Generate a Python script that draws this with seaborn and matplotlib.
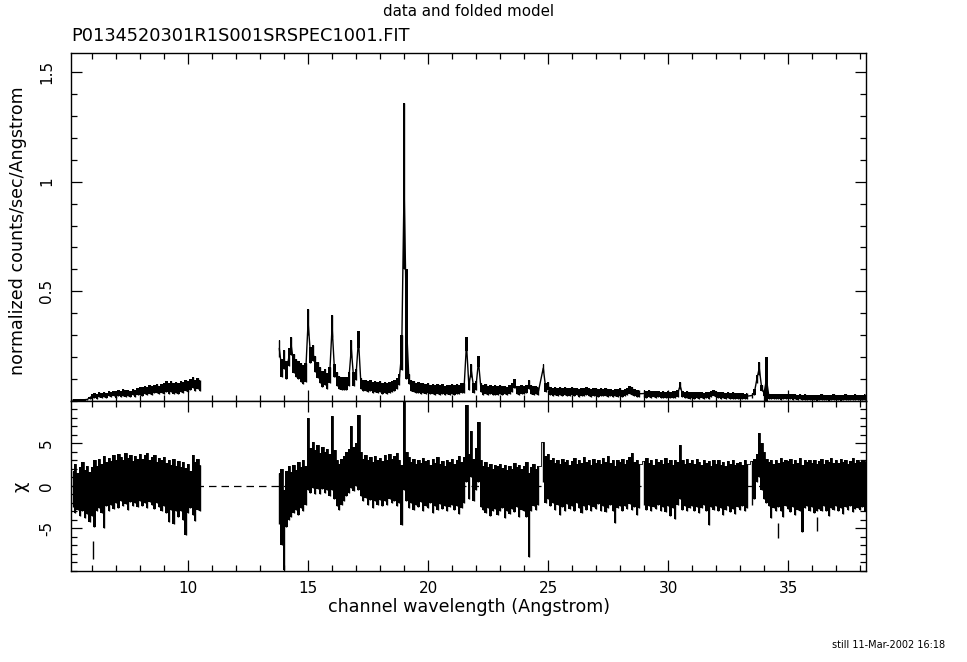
import numpy as np
import pandas as pd
import seaborn as sns
import matplotlib
matplotlib.use("Agg")
import matplotlib.pyplot as plt
from matplotlib.ticker import MultipleLocator, FixedLocator, FuncFormatter

nan = np.nan

# RGS spectrum read in chunks of 0.1 Angstrom; segment 1 starts at 5.2 A, segment 2 at 13.8 A
seg1_start = 5.2
seg2_start = 13.8
bin_width = 0.1

# normalized counts/sec/Angstrom (centre of the data band), one row per Angstrom
flux1_rows = [
    [0.004, 0.005, 0.004, 0.006, 0.005, 0.006, 0.007, 0.015],
    [0.022, 0.025, 0.020, 0.028, 0.024, 0.030, 0.026, 0.033, 0.028, 0.035],
    [0.030, 0.036, 0.032, 0.038, 0.033, 0.036, 0.031, 0.040, 0.035, 0.042],
    [0.045, 0.042, 0.050, 0.046, 0.052, 0.047, 0.055, 0.058, 0.050, 0.056],
    [0.056, 0.064, 0.057, 0.066, 0.059, 0.063, 0.056, 0.068, 0.062, 0.070],
    [0.066, 0.075, 0.085, 0.070, 0.078, 0.072],
]
flux1_row_err = [0.004, 0.012, 0.015, 0.02, 0.025, 0.025]

flux2_rows = [
    [0.24, 0.15],
    [0.19, 0.14, 0.20, 0.25, 0.17, 0.15, 0.14, 0.13, 0.12, 0.13],
    [0.36, 0.21, 0.22, 0.17, 0.14, 0.12, 0.10, 0.11, 0.09, 0.12],
    [0.34, 0.14, 0.10, 0.085, 0.08, 0.078, 0.08, 0.10, 0.24, 0.10],
    [0.12, 0.28, 0.08, 0.07, 0.072, 0.065, 0.07, 0.062, 0.068, 0.06],
    [0.065, 0.058, 0.062, 0.056, 0.06, 0.065, 0.07, 0.08, 0.10, 0.22],
    [0.98, 0.35, 0.10, 0.07, 0.065, 0.06, 0.062, 0.056, 0.06, 0.055],
    [0.058, 0.052, 0.056, 0.05, 0.055, 0.05, 0.054, 0.048, 0.052, 0.05],
    [0.055, 0.05, 0.056, 0.052, 0.058, 0.06, 0.26, 0.07, 0.14, 0.06],
    [0.07, 0.18, 0.06, 0.05, 0.055, 0.048, 0.052, 0.046, 0.05, 0.047],
    [0.052, 0.048, 0.05, 0.046, 0.052, 0.06, 0.08, 0.05, 0.048, 0.052],
    [0.05, 0.055, 0.075, 0.052, 0.048, 0.05, 0.045, nan, 0.15, 0.06],
    [0.07, 0.045, 0.042, 0.046, 0.04, 0.044, 0.04, 0.045, 0.042, 0.04],
    [0.044, 0.039, 0.043, 0.038, 0.042, 0.04, 0.045, 0.04, 0.038, 0.042],
    [0.04, 0.037, 0.041, 0.038, 0.04, 0.036, 0.039, 0.035, 0.038, 0.036],
    [0.04, 0.035, 0.038, 0.042, 0.05, 0.045, 0.038, 0.035, 0.033, nan],
    [0.034, 0.03, 0.033, 0.03, 0.032, 0.029, 0.031, 0.028, 0.03, 0.028],
    [0.03, 0.027, 0.029, 0.03, 0.033, 0.07, 0.032, 0.028, 0.03, 0.026],
    [0.028, 0.025, 0.027, 0.025, 0.028, 0.024, 0.027, 0.025, 0.03, 0.035],
    [0.032, 0.028, 0.025, 0.027, 0.024, 0.026, 0.023, 0.025, 0.022, 0.024],
    [0.022, 0.023, 0.021, 0.022, nan, 0.025, 0.04, 0.10, 0.15, 0.06],
    [0.035, 0.10, 0.022, 0.02, 0.022, 0.019, 0.021, 0.018, 0.02, 0.022],
    [0.019, 0.021, 0.018, 0.02, 0.017, 0.019, 0.016, 0.018, 0.015, 0.017],
    [0.015, 0.017, 0.014, 0.016, 0.018, 0.015, 0.017, 0.014, 0.016, 0.018],
    [0.015, 0.017, 0.014, 0.016, 0.018, 0.015, 0.017, 0.016, 0.018, 0.015],
    [0.017, 0.016, 0.018],
]
flux2_row_err = [0.04, 0.042, 0.036, 0.03, 0.025, 0.025, 0.024, 0.022, 0.022,
                 0.021, 0.02, 0.02, 0.018, 0.018, 0.017, 0.017, 0.015,
                 0.015, 0.014, 0.014, 0.013, 0.012, 0.012, 0.012, 0.012, 0.012]

# chunks on emission lines with larger errors
line_wave = [15.0, 16.0, 16.8, 17.1, 18.9, 19.0, 19.1, 21.6, 21.8, 22.1, 24.8, 33.7, 33.8, 34.1]
line_err = [0.06, 0.05, 0.04, 0.04, 0.08, 0.38, 0.25, 0.03, 0.03, 0.025, 0.02, 0.02, 0.03, 0.1]

# residuals: lower / upper edge of the chi band (chi +- 1), one row per Angstrom
chi1_lo_rows = [
    [-2.5, -3.2, -2.8, -3.5, -3.0, -3.8, -3.3, -4.2],
    [-3.5, -4.8, -3.0, -2.6, -3.2, -5.0, -2.4, -2.9, -2.2, -2.7],
    [-2.0, -2.6, -1.8, -2.4, -2.1, -2.8, -1.9, -2.3, -2.0, -2.5],
    [-1.8, -2.4, -2.0, -2.6, -1.9, -2.2, -2.7, -2.0, -2.5, -3.0],
    [-2.4, -3.2, -4.2, -2.8, -4.5, -3.0, -3.6, -2.9, -4.0, -5.8],
    [-3.2, -2.6, -3.4, -4.1, -2.8, -3.0],
]
chi1_hi_rows = [
    [1.8, 2.6, 1.5, 2.2, 2.8, 1.9, 2.4, 1.6],
    [2.2, 3.0, 2.4, 3.2, 2.6, 3.5, 2.8, 3.3, 2.9, 3.6],
    [3.1, 3.8, 3.4, 3.0, 3.9, 3.3, 3.6, 2.9, 3.5, 3.2],
    [3.8, 3.2, 3.6, 3.9, 3.0, 3.4, 3.7, 2.8, 3.3, 3.1],
    [3.4, 2.7, 3.1, 2.5, 3.2, 2.4, 2.9, 2.2, 2.8, 2.1],
    [2.6, 1.8, 3.6, 2.8, 3.2, 2.5],
]
chi2_lo_rows = [
    [-4.5, -7.0],
    [-9.9, -4.8, -4.0, -3.6, -3.2, -2.8, -3.4, -2.6, -3.0, -2.2],
    [-0.5, -0.8, -0.2, -1.0, -0.4, -0.9, -0.3, -0.8, -0.5, -1.2],
    [-0.5, -1.5, -2.4, -2.8, -2.2, -1.8, -1.2, -0.8, -0.2, -0.6],
    [0.0, -0.5, -1.2, -1.8, -1.4, -2.2, -1.6, -2.6, -1.8, -2.2],
    [-1.6, -2.4, -1.8, -2.2, -1.5, -2.0, -1.8, -2.3, -2.0, -4.6],
    [-0.5, -1.8, -2.6, -2.0, -2.8, -2.2, -2.5, -1.9, -2.9, -2.3],
    [-2.6, -2.0, -3.2, -2.4, -2.8, -2.1, -2.7, -2.3, -3.0, -2.5],
    [-2.2, -2.8, -2.4, -3.3, -2.6, -2.0, 0.5, -1.5, 1.0, -1.8],
    [-0.5, 0.5, -2.5, -2.8, -3.2, -2.6, -3.5, -3.0, -2.7, -3.4],
    [-3.0, -2.6, -3.8, -2.9, -3.3, -2.7, -3.1, -2.5, -3.6, -2.8],
    [-3.0, -3.6, -8.4, -3.0, -2.4, -2.8, -2.2, nan, 0.5, -2.0],
    [-1.5, -2.4, -2.0, -2.8, -2.2, -3.4, -2.5, -2.9, -2.1, -2.7],
    [-2.3, -2.9, -2.0, -2.6, -3.2, -2.4, -2.8, -2.2, -3.0, -2.5],
    [-2.7, -2.1, -2.9, -2.4, -3.1, -2.6, -2.2, -3.0, -4.4, -2.6],
    [-2.4, -3.0, -2.3, -2.7, -2.1, -2.8, -2.5, -3.4, -2.6, nan],
    [-2.2, -2.8, -2.4, -3.0, -2.5, -2.7, -2.2, -2.9, -2.5, -3.1],
    [-2.4, -3.5, -2.6, -3.9, -2.2, -1.5, -2.8, -2.4, -3.0, -2.6],
    [-2.3, -2.9, -2.5, -3.2, -2.6, -2.2, -2.9, -4.6, -2.5, -2.8],
    [-2.4, -3.0, -2.6, -3.4, -2.8, -2.3, -3.1, -2.7, -3.3, -2.5],
    [-2.8, -2.4, -3.0, -2.6, nan, -2.2, -1.5, 0.5, 1.0, -0.5],
    [-1.5, -2.0, -2.4, -3.8, -2.6, -3.0, -2.5, -2.9, -3.6, -2.4],
    [-2.7, -3.1, -2.5, -3.4, -2.8, -3.0, -5.4, -2.6, -2.3, -2.9],
    [-2.5, -3.2, -2.9, -2.7, -3.0, -2.4, -2.9, -3.5, -2.6, -2.8],
    [-2.4, -3.0, -2.6, -3.3, -2.5, -2.8, -2.3, -3.1, -2.7, -2.6],
    [-2.8, -2.5, -3.0],
]
chi2_hi_rows = [
    [1.5, 2.0],
    [-0.5, 1.8, 2.3, 1.6, 2.5, 1.9, 2.8, 2.2, 3.0, 2.4],
    [8.0, 4.5, 5.2, 4.2, 4.8, 3.9, 4.6, 4.0, 4.4, 3.8],
    [8.2, 4.2, 3.0, 2.6, 3.2, 3.5, 4.0, 4.4, 7.0, 4.6],
    [5.0, 8.3, 4.0, 3.2, 3.6, 3.0, 3.4, 2.8, 3.5, 3.1],
    [3.3, 2.9, 3.6, 3.0, 3.8, 3.2, 3.5, 3.9, 3.0, 2.5],
    [10.0, 4.0, 3.4, 2.8, 3.2, 2.6, 3.1, 2.7, 3.3, 2.9],
    [3.0, 2.5, 3.2, 2.7, 3.4, 2.6, 2.9, 2.4, 3.1, 2.8],
    [3.2, 2.6, 3.0, 3.5, 2.8, 3.4, 9.5, 3.8, 6.5, 3.2],
    [4.5, 7.5, 3.0, 2.4, 2.8, 2.2, 2.6, 2.0, 2.5, 2.3],
    [2.6, 2.1, 2.5, 1.9, 2.4, 2.0, 2.7, 2.2, 2.5, 2.0],
    [2.3, 2.8, 1.5, 2.2, 2.6, 2.0, 2.4, nan, 5.2, 3.5],
    [3.8, 3.0, 3.3, 2.7, 3.1, 2.6, 3.2, 2.8, 3.0, 2.5],
    [2.9, 3.3, 2.6, 3.0, 2.7, 3.4, 2.8, 3.1, 2.5, 3.2],
    [2.7, 3.0, 2.6, 3.3, 2.8, 3.5, 2.7, 3.0, 2.4, 3.1],
    [2.8, 3.2, 2.6, 3.0, 3.4, 3.9, 2.8, 3.1, 2.6, nan],
    [2.9, 3.3, 2.7, 3.1, 2.5, 3.2, 2.8, 3.0, 2.6, 3.3],
    [2.7, 3.1, 2.5, 3.0, 2.8, 4.8, 3.0, 2.6, 3.2, 2.7],
    [3.0, 2.6, 3.2, 2.8, 2.5, 3.1, 2.7, 2.9, 2.4, 3.0],
    [2.6, 3.0, 2.5, 2.8, 2.4, 2.9, 2.6, 3.1, 2.5, 2.7],
    [2.8, 2.5, 3.0, 2.6, nan, 2.9, 3.2, 3.8, 6.2, 5.0],
    [4.0, 3.2, 2.8, 3.1, 2.6, 3.0, 2.7, 3.3, 2.8, 3.1],
    [2.9, 3.2, 2.6, 3.0, 2.7, 3.3, 2.5, 3.1, 2.8, 3.0],
    [2.7, 3.1, 2.6, 2.9, 3.2, 2.6, 3.0, 2.8, 3.3, 2.7],
    [3.0, 2.7, 3.2, 2.8, 3.1, 2.6, 2.9, 3.3, 2.7, 3.0],
    [2.8, 3.1, 2.9],
]

# single deviant channels standing apart from the band
spike_wave = [6.05, 34.58, 36.2]
spike_lo = [-8.6, -6.1, -5.3]
spike_hi = [-6.5, -4.3, -3.6]


def flatten(rows):
    return np.array([v for row in rows for v in row], dtype=float)


def row_errors(rows, errs):
    return np.repeat(errs, [len(r) for r in rows])


segments = []
for start, f_rows, f_err, lo_rows, hi_rows in (
        (seg1_start, flux1_rows, flux1_row_err, chi1_lo_rows, chi1_hi_rows),
        (seg2_start, flux2_rows, flux2_row_err, chi2_lo_rows, chi2_hi_rows)):
    flux = flatten(f_rows)
    wave = np.round(start + bin_width * np.arange(len(flux)), 1)
    err = row_errors(f_rows, f_err)
    for w, e in zip(line_wave, line_err):
        err[np.isclose(wave, w)] = e
    chi_lo, chi_hi = flatten(lo_rows), flatten(hi_rows)
    assert len(chi_lo) == len(flux) == len(chi_hi)
    segments.append(pd.DataFrame({"wave": wave, "flux": flux,
                                  "flux_lo": flux - err, "flux_hi": flux + err,
                                  "chi_lo": chi_lo, "chi_hi": chi_hi}))

sns.set_style("ticks", {"axes.edgecolor": "black", "text.color": "black",
                        "xtick.color": "black", "ytick.color": "black",
                        "axes.labelcolor": "black"})
plt.rcParams["font.family"] = ["DejaVu Sans"]
plt.rcParams["axes.unicode_minus"] = False

fig = plt.figure(figsize=(9.67, 6.62), dpi=100)
ax1 = fig.add_axes([0.0734, 0.3943, 0.8222, 0.5257])
ax2 = fig.add_axes([0.0734, 0.1375, 0.8222, 0.2568], sharex=ax1)

ax2.axhline(0, color="black", lw=0.9, ls=(0, (6, 4)), zorder=0)

for seg in segments:
    for ax, name in ((ax1, "flux"), (ax2, "chi")):
        lo, hi = seg[name + "_lo"], seg[name + "_hi"]
        ax.fill_between(seg["wave"], lo, hi, step="mid", color="black", lw=0)
        ax.vlines(seg["wave"], lo, hi, color="black", lw=1.0)
    # data points joined channel to channel, so lines rise from the continuum
    sns.lineplot(data=seg, x="wave", y="flux", color="black", lw=1.0, ax=ax1)
    sns.lineplot(data=seg, x="wave", y="chi_hi", color="black", lw=0.6,
                 drawstyle="steps-mid", ax=ax2)

ax2.vlines(spike_wave, spike_lo, spike_hi, color="black", lw=1.0)

ax1.set_xlim(5.12, 38.25)
ax1.set_ylim(0.0, 1.587)
ax2.set_ylim(-10, 10)

fmt = FuncFormatter(lambda v, p: "%g" % v)
for ax in (ax1, ax2):
    ax.set_xlabel("")
    ax.set_ylabel("")
    ax.xaxis.set_major_locator(MultipleLocator(5))
    ax.xaxis.set_minor_locator(MultipleLocator(1))
    ax.tick_params(which="both", direction="in", top=True, right=True,
                   width=0.9, labelsize=11)
    ax.tick_params(which="major", length=8)
    ax.tick_params(which="minor", length=4)
    ax.tick_params(axis="y", labelrotation=90, pad=12)
    ax.tick_params(axis="x", pad=7)
    ax.yaxis.set_major_formatter(fmt)
    for s in ax.spines.values():
        s.set_linewidth(1.0)
    for lab in ax.get_yticklabels():
        lab.set_va("center")

ax1.yaxis.set_major_locator(FixedLocator([0.5, 1.0, 1.5]))
ax1.yaxis.set_minor_locator(MultipleLocator(0.1))
ax1.tick_params(axis="x", labelbottom=False)
ax2.yaxis.set_major_locator(FixedLocator([-5, 0, 5]))
ax2.yaxis.set_minor_locator(MultipleLocator(1))

fig.text(0.4845, 0.982, "data and folded model", ha="center", va="center", fontsize=10.8)
fig.text(0.0734, 0.9456, "P0134520301R1S001SRSPEC1001.FIT", ha="left", va="center", fontsize=12.8)
fig.text(0.4845, 0.083, "channel wavelength (Angstrom)", ha="center", va="center", fontsize=12.6)
fig.text(0.0186, 0.651, "normalized counts/sec/Angstrom", rotation=90,
         ha="center", va="center", fontsize=12.6)
fig.text(0.021, 0.264, "\u03c7", rotation=90, ha="center", va="center", fontsize=13)
fig.text(0.977, 0.025, "still 11-Mar-2002 16:18", ha="right", va="center", fontsize=7)

fig.savefig("out.png", dpi=100)
